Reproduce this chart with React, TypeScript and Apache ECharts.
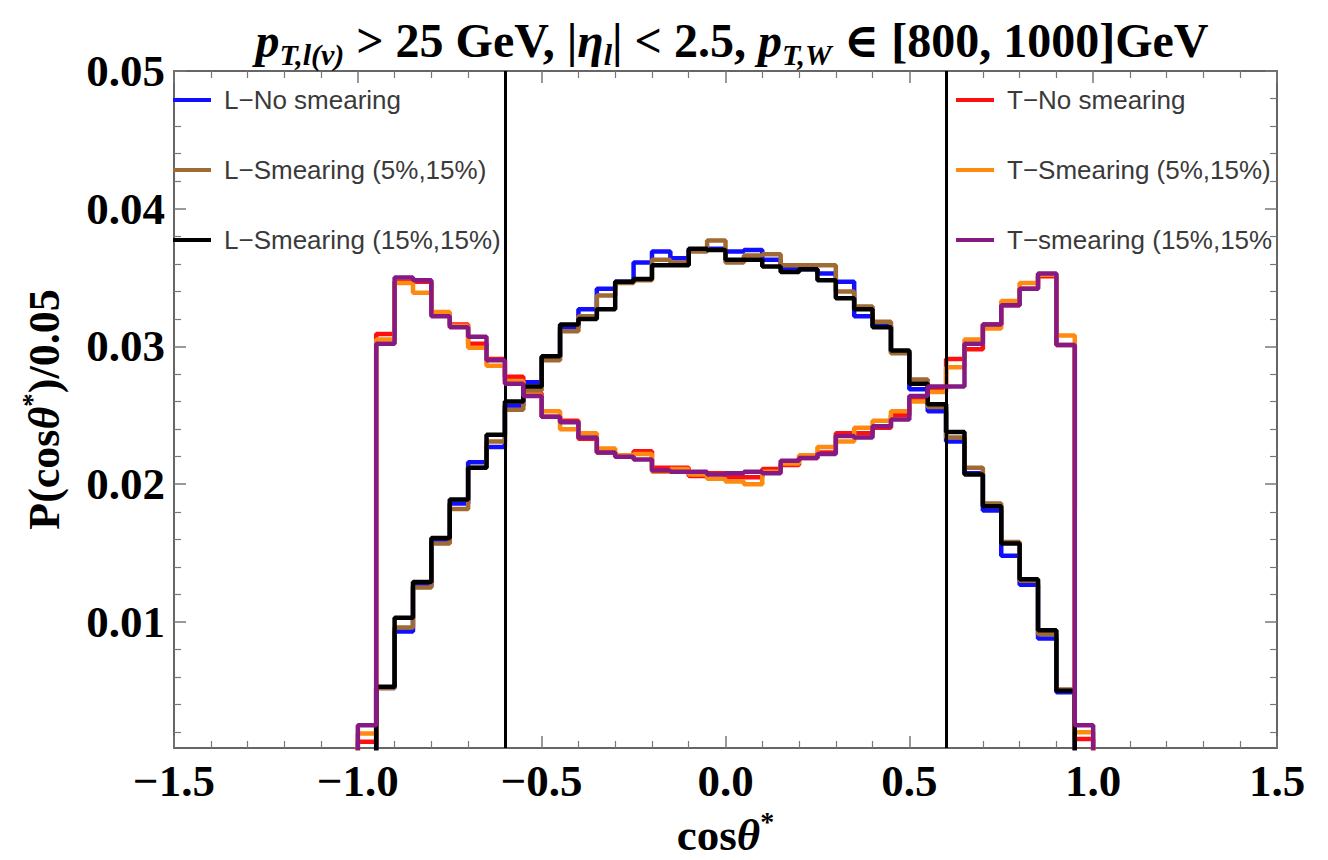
import React, { useEffect, useRef } from "react";
import * as echarts from "echarts";

// ---------- data ----------
const BIN_START = -1.0;
const BIN_WIDTH = 0.05;

const L_NO_SMEAR = [0, 0.0052, 0.0093, 0.0126, 0.0158, 0.0186, 0.0216, 0.0227, 0.0257, 0.0274,
  0.0292, 0.0314, 0.0327, 0.0342, 0.0347, 0.0361, 0.0369, 0.0364, 0.037, 0.0371,
  0.0369, 0.037, 0.0363, 0.0356, 0.0356, 0.0353, 0.0347, 0.0322, 0.0315, 0.0296,
  0.0269, 0.0253, 0.0231, 0.0208, 0.0181, 0.0148, 0.0127, 0.0088, 0.0049, 0];
const L_SMEAR_5 = [0, 0.0052, 0.0096, 0.0125, 0.0157, 0.0182, 0.0212, 0.0231, 0.0254, 0.0268,
  0.029, 0.0311, 0.0322, 0.0337, 0.0346, 0.0348, 0.0363, 0.0361, 0.0369, 0.0377,
  0.0361, 0.0366, 0.0367, 0.0359, 0.0359, 0.0359, 0.034, 0.0329, 0.0318, 0.0295,
  0.0276, 0.0256, 0.0234, 0.0212, 0.0186, 0.0158, 0.013, 0.0091, 0.0051, 0];
const L_SMEAR_15 = [0, 0.0053, 0.0103, 0.0129, 0.0161, 0.0189, 0.0212, 0.0236, 0.026, 0.0271,
  0.0293, 0.0316, 0.032, 0.0327, 0.0347, 0.0349, 0.0359, 0.0359, 0.0371, 0.037,
  0.0363, 0.0363, 0.0358, 0.0354, 0.0356, 0.0348, 0.0335, 0.0327, 0.0314, 0.0297,
  0.0273, 0.0258, 0.0238, 0.0207, 0.0184, 0.0157, 0.0131, 0.0094, 0.005, 0];
const T_NO_SMEAR = [0.0013, 0.0309, 0.0347, 0.0347, 0.0324, 0.0316, 0.0302, 0.0291, 0.0278, 0.0266,
  0.0249, 0.0246, 0.0233, 0.0223, 0.022, 0.0224, 0.0212, 0.0212, 0.0206, 0.0208,
  0.0205, 0.0205, 0.0211, 0.0214, 0.0219, 0.0223, 0.0237, 0.0237, 0.0241, 0.025,
  0.0262, 0.0269, 0.0291, 0.0298, 0.0316, 0.033, 0.0342, 0.0351, 0.0301, 0.0015];
const T_SMEAR_5 = [0.0019, 0.0305, 0.0346, 0.0339, 0.0325, 0.0315, 0.0299, 0.0286, 0.0275, 0.0265,
  0.0253, 0.024, 0.0237, 0.0226, 0.0221, 0.0222, 0.0209, 0.0211, 0.0207, 0.0204,
  0.0202, 0.02, 0.0209, 0.0215, 0.0221, 0.0227, 0.0231, 0.0241, 0.0246, 0.0253,
  0.026, 0.0267, 0.0285, 0.0305, 0.0313, 0.0333, 0.0346, 0.0352, 0.0308, 0.002];
const T_SMEAR_15 = [0.0025, 0.0302, 0.035, 0.0348, 0.0322, 0.0314, 0.0307, 0.029, 0.0273, 0.0264,
  0.0249, 0.0245, 0.0234, 0.0223, 0.022, 0.0218, 0.021, 0.0209, 0.0209, 0.0207,
  0.0208, 0.0209, 0.0208, 0.0217, 0.0219, 0.0222, 0.0235, 0.0234, 0.0242, 0.0247,
  0.0264, 0.0271, 0.0271, 0.0302, 0.0316, 0.033, 0.0342, 0.0353, 0.0301, 0.0025];

const SERIES_NAMES = [
  "L−No smearing",
  "L−Smearing (5%,15%)",
  "L−Smearing (15%,15%)",
  "T−No smearing",
  "T−Smearing (5%,15%)",
  "T−smearing (15%,15%",
];
const SERIES_COLORS = ["#1010ff", "#a06a35", "#000000", "#ff1010", "#ff8a10", "#851a85"];
const SERIES_VALUES = [L_NO_SMEAR, L_SMEAR_5, L_SMEAR_15, T_NO_SMEAR, T_SMEAR_5, T_SMEAR_15];

const CUT_X = [-0.6, 0.6];
const X_MIN = -1.5;
const X_MAX = 1.5;
const X_INTERVAL = 0.5;
const Y_MIN = 0.00085;
const Y_MAX = 0.05;
const Y_TICKS = [0.01, 0.02, 0.03, 0.04, 0.05];
const Y_MINOR_TICKS = [0.002, 0.004, 0.006, 0.008, 0.012, 0.014, 0.016, 0.018, 0.022, 0.024, 0.026, 0.028,
  0.032, 0.034, 0.036, 0.038, 0.042, 0.044, 0.046, 0.048];

// ---------- helpers ----------
function stepPoints(vals: number[]): number[][] {
  const pts: number[][] = [[BIN_START, 0]];
  vals.forEach((v, i) => {
    const x0 = +(BIN_START + i * BIN_WIDTH).toFixed(4);
    const x1 = +(BIN_START + (i + 1) * BIN_WIDTH).toFixed(4);
    pts.push([x0, v], [x1, v]);
  });
  pts.push([+(BIN_START + vals.length * BIN_WIDTH).toFixed(4), 0]);
  return pts;
}

const SERIF = "'Liberation Serif', 'DejaVu Serif', serif";
const SANS = "'Liberation Sans', Arial, sans-serif";
const FRAME = "#666";
const TICK = "#777";

export default function App() {
  const ref = useRef<HTMLDivElement>(null);
  useEffect(() => {
    if (!ref.current) return;
    const chart = echarts.init(ref.current, undefined, { renderer: "svg" });

    const yBase = {
      type: "value",
      min: Y_MIN,
      max: Y_MAX,
      splitLine: { show: false },
      axisLabel: { show: false },
    };
    const xBase = {
      type: "value",
      min: X_MIN,
      max: X_MAX,
      interval: X_INTERVAL,
      splitLine: { show: false },
      minorSplitLine: { show: false },
      axisTick: { show: true, inside: true, length: 12, lineStyle: { color: TICK, width: 1.5 } },
      minorTick: { show: true, splitNumber: 5, length: 7, lineStyle: { color: TICK, width: 1.2 } },
      axisLine: { show: true, onZero: false, lineStyle: { color: FRAME, width: 2 } },
    };

    const lineSeries = SERIES_NAMES.map((name, k) => ({
      name,
      type: "line",
      data: stepPoints(SERIES_VALUES[k]),
      xAxisIndex: 0,
      yAxisIndex: 0,
      showSymbol: false,
      symbol: "none",
      clip: true,
      z: k < 3 ? 3 + k : k,
      lineStyle: { color: SERIES_COLORS[k], width: 4.5 },
      itemStyle: { color: SERIES_COLORS[k] },
    }));

    const legendText = { fontFamily: SANS, fontSize: 26, color: "#3a3a3a", lineHeight: 30, padding: [0, 0, 0, 8] };

    const option: any = {
      animation: false,
      backgroundColor: "#ffffff",
      title: {
        left: 727,
        top: 6,
        textAlign: "center",
        text:
          "{i|p}{s|T,l(ν)}{n| > 25 GeV, |}{i|η}{s|l}{n|| < 2.5, }{i|p}{s|T,W}{n| ∈ [800, 1000]GeV}",
        textStyle: {
          rich: {
            n: { fontFamily: SERIF, fontWeight: "bold", fontSize: 48, color: "#000", lineHeight: 58, verticalAlign: "middle" },
            i: { fontFamily: SERIF, fontWeight: "bold", fontStyle: "italic", fontSize: 48, color: "#000", lineHeight: 58, verticalAlign: "middle" },
            s: { fontFamily: SERIF, fontWeight: "bold", fontStyle: "italic", fontSize: 30, color: "#000", lineHeight: 32, verticalAlign: "bottom" },
          },
        },
      },
      legend: [
        {
          data: SERIES_NAMES.slice(0, 3),
          orient: "vertical",
          left: 173,
          top: 85,
          padding: 0,
          itemGap: 40,
          itemWidth: 38,
          itemHeight: 4,
          icon: "rect",
          selectedMode: false,
          textStyle: legendText,
        },
        {
          data: SERIES_NAMES.slice(3),
          orient: "vertical",
          left: 956,
          top: 85,
          padding: 0,
          itemGap: 40,
          itemWidth: 38,
          itemHeight: 4,
          icon: "rect",
          selectedMode: false,
          textStyle: legendText,
        },
      ],
      grid: { left: 174, right: 51, top: 71, bottom: 112, containLabel: false, outerBoundsMode: "none" },
      xAxis: [
        {
          ...xBase,
          position: "bottom",
          axisLabel: {
            show: true,
            margin: 10,
            fontFamily: SERIF,
            fontWeight: "bold",
            fontSize: 45,
            color: "#000",
            formatter: (v: number) => (v < 0 ? "−" : "") + Math.abs(v).toFixed(1),
          },
          name: "{b|cos}{it|θ}{sup|*}",
          nameLocation: "middle",
          nameGap: 58,
          nameTextStyle: {
            rich: {
              b: { fontFamily: SERIF, fontWeight: "bold", fontSize: 45, color: "#000", lineHeight: 50, verticalAlign: "bottom" },
              it: { fontFamily: SERIF, fontWeight: "bold", fontStyle: "italic", fontSize: 45, color: "#000", lineHeight: 50, verticalAlign: "bottom" },
              sup: { fontFamily: SERIF, fontWeight: "bold", fontSize: 28, color: "#000", lineHeight: 50, verticalAlign: "top", padding: [0, 0, 12, 0] },
            },
          },
        },
        {
          ...xBase,
          position: "top",
          axisLabel: { show: false },
        },
      ],
      yAxis: [
        {
          ...yBase,
          position: "left",
          axisLine: { show: true, onZero: false, lineStyle: { color: FRAME, width: 2 } },
          axisTick: { show: true, inside: true, length: 12, customValues: Y_TICKS, lineStyle: { color: TICK, width: 1.5 } },
          axisLabel: {
            show: true,
            customValues: Y_TICKS,
            margin: 9,
            fontFamily: SERIF,
            fontWeight: "bold",
            fontSize: 45,
            color: "#000",
            formatter: (v: number) => v.toFixed(2),
          },
          name: "{b|P(cos}{it|θ}{sup|*}{b|)/0.05}",
          nameLocation: "middle",
          nameRotate: 90,
          nameGap: 108,
          nameTextStyle: {
            rich: {
              b: { fontFamily: SERIF, fontWeight: "bold", fontSize: 44, color: "#000", lineHeight: 48, verticalAlign: "bottom" },
              it: { fontFamily: SERIF, fontWeight: "bold", fontStyle: "italic", fontSize: 44, color: "#000", lineHeight: 48, verticalAlign: "bottom" },
              sup: { fontFamily: SERIF, fontWeight: "bold", fontSize: 27, color: "#000", lineHeight: 48, verticalAlign: "top", padding: [0, 0, 12, 0] },
            },
          },
        },
        {
          ...yBase,
          position: "left",
          axisLine: { show: false, onZero: false },
          axisTick: { show: true, inside: true, length: 7, customValues: Y_MINOR_TICKS, lineStyle: { color: TICK, width: 1.2 } },
        },
        {
          ...yBase,
          position: "right",
          axisLine: { show: true, onZero: false, lineStyle: { color: FRAME, width: 2 } },
          axisTick: { show: true, inside: true, length: 12, customValues: Y_TICKS, lineStyle: { color: TICK, width: 1.5 } },
        },
        {
          ...yBase,
          position: "right",
          axisLine: { show: false, onZero: false },
          axisTick: { show: true, inside: true, length: 7, customValues: Y_MINOR_TICKS, lineStyle: { color: TICK, width: 1.2 } },
        },
      ],
      series: [
        ...lineSeries,
        {
          name: "cuts",
          type: "line",
          data: [],
          xAxisIndex: 0,
          yAxisIndex: 0,
          z: 10,
          markLine: {
            silent: true,
            symbol: ["none", "none"],
            label: { show: false },
            lineStyle: { color: "#000", width: 3, type: "solid" },
            data: CUT_X.map((x) => ({ xAxis: x })),
          },
        },
      ],
    };

    chart.setOption(option);
    return () => chart.dispose();
  }, []);

  return (
    <div
      ref={ref}
      style={{ position: "fixed", left: 0, top: 0, width: 1328, height: 860, background: "#fff" }}
    />
  );
}
